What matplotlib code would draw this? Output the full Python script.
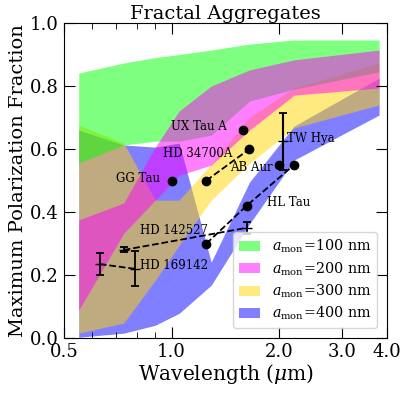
import numpy as np
import matplotlib
matplotlib.use("Agg")
import matplotlib.pyplot as plt
from matplotlib.ticker import FixedLocator, FormatStrFormatter, NullFormatter

plt.rcParams['font.family'] = 'DejaVu Serif'
plt.rcParams['mathtext.fontset'] = 'dejavuserif'
plt.rcParams['xtick.direction'] = 'in'
plt.rcParams['ytick.direction'] = 'in'
plt.rcParams['xtick.top'] = True
plt.rcParams['ytick.right'] = True

# model bands (min / max polarization vs wavelength)
lam_grid = [0.55, 0.735, 0.9, 1.05, 1.29, 1.65, 2.2, 3.8]
green_lo = [0.556, 0.613, 0.625, 0.625, 0.644, 0.752, 0.79, 0.845]
green_hi = [0.841, 0.873, 0.89, 0.90, 0.914, 0.933, 0.946, 0.946]
magenta_lo = [0.089, 0.333, 0.438, 0.517, 0.549, 0.66, 0.771, 0.794]
magenta_hi = [0.375, 0.429, 0.606, 0.721, 0.80, 0.851, 0.883, 0.914]
yellow_lo = [0.016, 0.048, 0.184, 0.295, 0.438, 0.555, 0.667, 0.74]
yellow_hi = [0.676, 0.619, 0.438, 0.438, 0.552, 0.70, 0.794, 0.873]
blue_lo = [0.003, 0.016, 0.041, 0.079, 0.168, 0.362, 0.565, 0.708]
blue_hi = [0.66, 0.613, 0.606, 0.619, 0.241, 0.495, 0.673, 0.825]
band_labels = [r'$a_{\rm mon}\!=\!100$ nm', r'$a_{\rm mon}\!=\!200$ nm',
               r'$a_{\rm mon}\!=\!300$ nm', r'$a_{\rm mon}\!=\!400$ nm']

# observations
gg_lam, gg_pol = 1.0, 0.50
hd34_lam = [1.25, 1.65]
hd34_pol = [0.50, 0.60]
ux_lam, ux_pol = 1.58, 0.66
ab_lam, ab_pol = 2.0, 0.55
tw_lam, tw_pol, tw_err = 2.05, 0.625, 0.09
hl_lam = [1.25, 1.62, 2.2]
hl_pol = [0.30, 0.42, 0.55]
hd14_lam = [0.735, 1.62]
hd14_pol = [0.28, 0.35]
hd14_err = [0.008, 0.02]
hd16_lam = [0.63, 0.79]
hd16_pol = [0.235, 0.22]
hd16_err = [0.035, 0.056]

fig = plt.figure(figsize=(4.07, 3.96), dpi=100)
ax = fig.add_axes([0.157, 0.146, 0.794, 0.796])

fb = ax.fill_between(lam_grid, blue_lo, blue_hi, color='blue', alpha=0.5, lw=0)
fy = ax.fill_between(lam_grid, yellow_lo, yellow_hi, color='gold', alpha=0.5, lw=0)
fg = ax.fill_between(lam_grid, green_lo, green_hi, color='lime', alpha=0.5, lw=0)
fm = ax.fill_between(lam_grid, magenta_lo, magenta_hi, color='magenta', alpha=0.5, lw=0)

ms = 6
ax.plot(gg_lam, gg_pol, 'ko', ms=ms)
ax.plot(hd34_lam, hd34_pol, 'ko--', ms=ms, lw=1.3)
ax.plot(ux_lam, ux_pol, 'ko', ms=ms)
ax.plot(ab_lam, ab_pol, 'ko', ms=ms)
ax.errorbar(tw_lam, tw_pol, yerr=tw_err, fmt='k_', ms=7, capsize=3, elinewidth=1.5, capthick=1.3)
ax.plot(hl_lam, hl_pol, 'ko--', ms=ms, lw=1.3)
ax.errorbar(hd14_lam, hd14_pol, yerr=hd14_err, fmt='k_--', ms=7, capsize=3, lw=1.3, capthick=1.3)
ax.errorbar(hd16_lam, hd16_pol, yerr=hd16_err, fmt='k_--', ms=7, capsize=3, lw=1.3, capthick=1.3)

fs = 8.5
ax.text(1.428, 0.67, 'UX Tau A', fontsize=fs, ha='right', va='center')
ax.text(1.475, 0.587, 'HD 34700A', fontsize=fs, ha='right', va='center')
ax.text(0.928, 0.508, 'GG Tau', fontsize=fs, ha='right', va='center')
ax.text(1.92, 0.54, 'AB Aur', fontsize=fs, ha='right', va='center')
ax.text(2.10, 0.635, 'TW Hya', fontsize=fs, ha='left', va='center')
ax.text(1.85, 0.432, 'HL Tau', fontsize=fs, ha='left', va='center')
ax.text(1.264, 0.343, 'HD 142527', fontsize=fs, ha='right', va='center')
ax.text(0.815, 0.232, 'HD 169142', fontsize=fs, ha='left', va='center')

ax.set_xscale('log')
ax.set_xlim(0.5, 4.0)
ax.set_ylim(0.0, 1.0)
ax.xaxis.set_major_locator(FixedLocator([0.5, 1.0, 2.0, 3.0, 4.0]))
ax.xaxis.set_major_formatter(FormatStrFormatter('%.1f'))
ax.xaxis.set_minor_formatter(NullFormatter())
ax.set_yticks([0.0, 0.2, 0.4, 0.6, 0.8, 1.0])
ax.yaxis.set_major_formatter(FormatStrFormatter('%.1f'))
ax.tick_params(which='major', length=8, labelsize=13)
ax.tick_params(which='minor', length=4)

ax.set_xlabel(r'Wavelength ($\mu$m)', fontsize=14.5, labelpad=1)
ax.set_ylabel('Maximum Polarization Fraction', fontsize=14, labelpad=2)
ax.set_title('Fractal Aggregates', fontsize=14, pad=2)

ax.legend([fg, fm, fy, fb], band_labels, loc='lower right', fontsize=10.3,
          handlelength=1.5, handletextpad=0.8, labelspacing=0.35, borderpad=0.4,
          borderaxespad=0.7)

fig.savefig('out.png', dpi=100)
